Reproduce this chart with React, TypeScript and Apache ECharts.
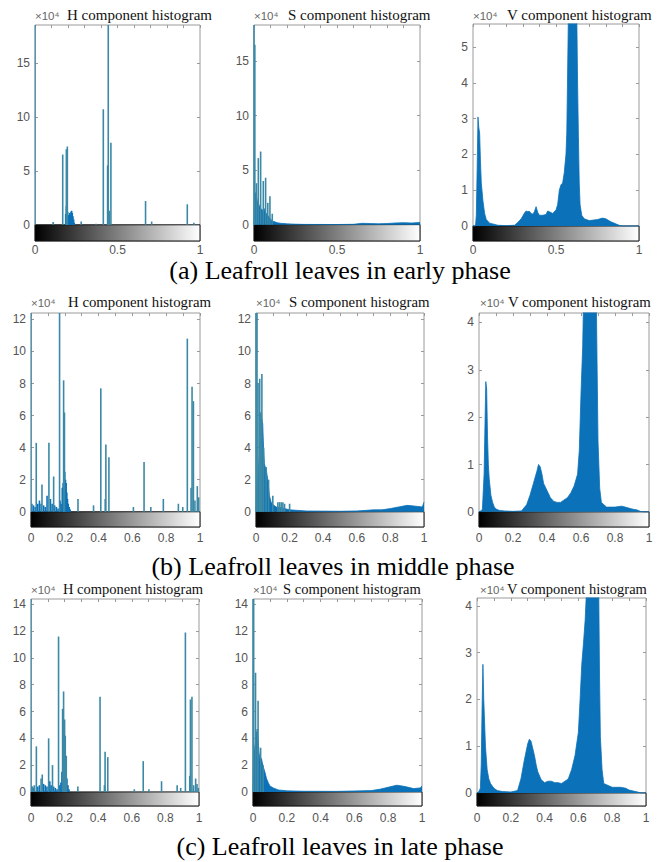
import React, { useEffect, useRef } from "react";
import * as echarts from "echarts";

type P = [number, number];

// ---------- texts ----------
const captions = [
  "(a) Leafroll leaves in early phase",
  "(b) Leafroll leaves in middle phase",
  "(c) Leafroll leaves in late phase",
];
const componentTitles = ["H component histogram", "S component histogram", "V component histogram"];
const scaleText = "×10⁴";

// ---------- tick values ----------
const xTicksCoarse = 0.5;
const xTicksFine = 0.2;
const yTicksA_HS = [0, 5, 10, 15];
const yTicksA_V = [0, 1, 2, 3, 4, 5];
const yTicksB_HS = [0, 2, 4, 6, 8, 10, 12];
const yTicksC_HS = [0, 2, 4, 6, 8, 10, 12, 14];
const yTicksBC_V = [0, 1, 2, 3, 4];

// axis limits (x10^4), lower part holds the gray colour bar
const limitsA_H: P = [-1.5, 18.5];
const limitsA_S: P = [-1.5, 18.3];
const limitsA_V: P = [-0.42, 5.65];
const limitsB_H: P = [-0.95, 12.4];
const limitsB_S: P = [-0.95, 12.4];
const limitsB_V: P = [-0.32, 4.2];
const limitsC_H: P = [-1.05, 14.4];
const limitsC_S: P = [-1.05, 14.4];
const limitsC_V: P = [-0.28, 4.17];

// ---------- (a) early phase ----------
const hEarlySpikes: P[] = [
  [0, 30], [0.11, 0.25], [0.168, 6.5], [0.19, 7.0], [0.196, 7.25], [0.28, 0.3], [0.37, 0.1],
  [0.414, 10.7], [0.44, 5.5], [0.444, 30], [0.45, 1.3], [0.46, 7.6], [0.67, 2.2], [0.707, 0.3],
  [0.923, 1.9], [0.963, 0.2],
];
const hEarlyDense: P[] = [
  [0.186, 1.0], [0.19, 1.7], [0.194, 1.5], [0.198, 1.2], [0.202, 0.9], [0.206, 0.5], [0.21, 1.1],
  [0.214, 0.9], [0.218, 1.2], [0.222, 1.3], [0.226, 1.1], [0.23, 0.8], [0.234, 0.5], [0.238, 0.2],
];
const sEarlyArea: P[] = [
  [0, 0], [0.003, 3.0], [0.01, 2.9], [0.02, 2.2], [0.03, 1.8], [0.04, 1.5], [0.05, 1.3], [0.06, 1.5],
  [0.07, 1.1], [0.08, 0.9], [0.09, 0.7], [0.1, 0.5], [0.11, 0.35], [0.12, 0.28], [0.14, 0.18],
  [0.16, 0.12], [0.2, 0.07], [0.25, 0.04], [0.3, 0.02], [0.5, 0.01], [0.6, 0.03], [0.65, 0.12],
  [0.7, 0.1], [0.75, 0.08], [0.8, 0.1], [0.85, 0.15], [0.9, 0.18], [0.95, 0.15], [1, 0.2],
];
const sEarlySpikes: P[] = [
  [0, 30], [0.005, 16.5], [0.015, 3.8], [0.026, 6.1], [0.04, 6.7], [0.056, 4.0], [0.07, 4.3],
  [0.083, 2.0], [0.096, 2.6], [0.11, 1.0],
];
const vEarly: P[] = [
  [0, 0], [0.015, 0], [0.02, 0.3], [0.025, 1.6], [0.03, 3.05], [0.035, 2.75], [0.04, 2.6],
  [0.045, 1.8], [0.05, 1.2], [0.06, 0.7], [0.07, 0.35], [0.08, 0.18], [0.1, 0.08], [0.15, 0.02],
  [0.2, 0.01], [0.25, 0.02], [0.27, 0.1], [0.29, 0.2], [0.3, 0.28], [0.31, 0.36], [0.32, 0.42],
  [0.33, 0.4], [0.34, 0.41], [0.35, 0.35], [0.36, 0.33], [0.37, 0.4], [0.38, 0.54], [0.39, 0.38],
  [0.4, 0.3], [0.42, 0.3], [0.44, 0.32], [0.45, 0.42], [0.46, 0.4], [0.48, 0.35], [0.5, 0.45],
  [0.51, 0.6], [0.52, 1.0], [0.53, 1.15], [0.54, 1.2], [0.55, 1.5], [0.56, 2.0], [0.565, 2.6],
  [0.575, 6], [0.625, 6], [0.63, 4], [0.635, 2.5], [0.64, 1.2], [0.645, 0.6], [0.655, 0.3],
  [0.67, 0.2], [0.7, 0.15], [0.75, 0.18], [0.78, 0.22], [0.8, 0.2], [0.83, 0.12], [0.86, 0.06],
  [0.88, 0.02], [0.9, 0], [1, 0],
];

// ---------- (b) middle phase ----------
const hMiddleSpikes: P[] = [
  [0, 30], [0.031, 4.3], [0.065, 1.7], [0.106, 4.3], [0.134, 2.2], [0.169, 30], [0.193, 8.2],
  [0.198, 6.2], [0.278, 0.8], [0.37, 0.4], [0.413, 7.7], [0.439, 0.8], [0.443, 4.2], [0.461, 3.4],
  [0.606, 0.3], [0.669, 3.1], [0.709, 0.3], [0.783, 0.8], [0.872, 0.5], [0.898, 0.3], [0.925, 10.8],
  [0.947, 1.5], [0.953, 7.8], [0.961, 6.9], [0.97, 0.7], [0.984, 1.6], [0.992, 0.9],
];
const hMiddleDense: P[] = [
  [0.005, 0.5], [0.015, 0.4], [0.025, 0.3], [0.04, 0.5], [0.05, 0.7], [0.06, 0.5], [0.075, 0.4],
  [0.085, 0.3], [0.095, 1.0], [0.115, 0.8], [0.125, 0.5], [0.14, 0.4], [0.15, 0.3], [0.16, 0.2],
  [0.172, 0.7], [0.178, 0.5], [0.185, 1.5], [0.19, 1.8], [0.196, 2.8], [0.2, 2.5], [0.204, 2.0],
  [0.208, 1.8], [0.212, 1.2], [0.216, 0.8], [0.22, 0.5], [0.226, 0.3], [0.232, 0.15],
];
const sMiddleArea: P[] = [
  [0, 0], [0.004, 1.5], [0.01, 2.0], [0.02, 3.5], [0.03, 6.0], [0.04, 5.5], [0.045, 4.0], [0.05, 3.0],
  [0.055, 2.8], [0.06, 2.7], [0.07, 2.0], [0.08, 1.0], [0.09, 0.6], [0.1, 0.45], [0.12, 0.3],
  [0.15, 0.25], [0.2, 0.12], [0.3, 0.05], [0.5, 0.03], [0.6, 0.05], [0.7, 0.12], [0.75, 0.12],
  [0.8, 0.2], [0.85, 0.3], [0.9, 0.4], [0.95, 0.35], [0.99, 0.3], [1, 0.6],
];
const sMiddleSpikes: P[] = [
  [0, 30], [0.006, 12.8], [0.012, 8.0], [0.022, 8.3], [0.028, 6.2], [0.035, 8.6], [0.045, 4.0],
  [0.06, 2.8], [0.075, 2.0], [0.1, 1.0], [0.13, 0.6], [0.14, 0.6], [0.15, 0.6], [0.16, 0.6],
  [0.17, 0.5], [0.2, 0.5],
];
const vMiddle: P[] = [
  [0, 0], [0.01, 0.02], [0.02, 0.05], [0.03, 0.8], [0.035, 1.8], [0.04, 2.75], [0.045, 2.6],
  [0.05, 1.6], [0.055, 1.0], [0.06, 0.7], [0.07, 0.35], [0.08, 0.2], [0.09, 0.1], [0.1, 0.06],
  [0.12, 0.03], [0.15, 0.02], [0.2, 0.01], [0.25, 0.02], [0.28, 0.15], [0.3, 0.35], [0.32, 0.6],
  [0.34, 0.85], [0.35, 1.0], [0.36, 0.95], [0.37, 0.8], [0.38, 0.6], [0.4, 0.45], [0.42, 0.3],
  [0.44, 0.22], [0.46, 0.2], [0.48, 0.2], [0.5, 0.25], [0.52, 0.3], [0.54, 0.4], [0.56, 0.55],
  [0.58, 0.8], [0.59, 1.3], [0.6, 2.5], [0.61, 3.5], [0.615, 4.5], [0.69, 4.5], [0.695, 3],
  [0.7, 1.5], [0.71, 0.5], [0.72, 0.2], [0.75, 0.1], [0.8, 0.1], [0.84, 0.12], [0.86, 0.1],
  [0.9, 0.06], [0.93, 0.04], [0.95, 0.01], [0.97, 0], [1, 0],
];

// ---------- (c) late phase ----------
const hLateSpikes: P[] = [
  [0, 30], [0.01, 0.4], [0.02, 0.5], [0.032, 3.4], [0.06, 1.0], [0.067, 1.3], [0.105, 4.0],
  [0.128, 2.0], [0.164, 11.6], [0.188, 6.2], [0.194, 7.5], [0.2, 5.4], [0.204, 4.2], [0.21, 2.7],
  [0.279, 0.4], [0.411, 7.1], [0.437, 0.5], [0.441, 3.0], [0.457, 2.6], [0.615, 0.2], [0.668, 2.3],
  [0.702, 0.2], [0.777, 0.8], [0.87, 0.5], [0.891, 0.3], [0.919, 11.9], [0.945, 1.2], [0.949, 6.9],
  [0.958, 7.1], [0.968, 0.5], [0.98, 1.0], [0.988, 0.6], [0.996, 0.3],
];
const hLateDense: P[] = [
  [0.005, 0.4], [0.015, 0.3], [0.04, 0.4], [0.05, 0.5], [0.075, 0.6], [0.085, 0.5], [0.095, 0.4],
  [0.112, 0.8], [0.12, 0.5], [0.135, 0.4], [0.145, 0.3], [0.155, 0.2], [0.17, 0.5], [0.178, 0.7],
  [0.184, 1.5], [0.19, 2.0], [0.196, 2.2], [0.202, 2.0], [0.208, 1.5], [0.214, 1.0], [0.22, 0.5],
  [0.226, 0.2],
];
const sLateArea: P[] = [
  [0, 0], [0.004, 3.5], [0.01, 3.0], [0.02, 4.5], [0.03, 4.0], [0.035, 3.0], [0.04, 2.5], [0.05, 2.5],
  [0.055, 2.2], [0.06, 1.9], [0.07, 1.5], [0.08, 1.0], [0.09, 0.7], [0.1, 0.45], [0.12, 0.3],
  [0.15, 0.15], [0.2, 0.08], [0.3, 0.05], [0.5, 0.04], [0.7, 0.1], [0.75, 0.2], [0.8, 0.35],
  [0.85, 0.5], [0.88, 0.45], [0.9, 0.4], [0.95, 0.25], [0.99, 0.3], [1, 0.45],
];
const sLateSpikes: P[] = [
  [0, 30], [0.004, 14.5], [0.015, 8.9], [0.025, 4.7], [0.03, 6.8], [0.045, 3.3], [0.06, 2.0],
];
const vLate: P[] = [
  [0, 0], [0.01, 0.02], [0.02, 0.1], [0.025, 0.6], [0.03, 1.8], [0.035, 2.75], [0.04, 2.0],
  [0.05, 1.0], [0.06, 0.5], [0.07, 0.3], [0.08, 0.2], [0.1, 0.1], [0.12, 0.05], [0.15, 0.03],
  [0.2, 0.02], [0.24, 0.05], [0.26, 0.3], [0.28, 0.7], [0.3, 1.05], [0.31, 1.15], [0.32, 1.1],
  [0.33, 0.95], [0.34, 0.8], [0.35, 0.6], [0.36, 0.45], [0.38, 0.28], [0.4, 0.22], [0.42, 0.25],
  [0.44, 0.25], [0.46, 0.22], [0.48, 0.22], [0.5, 0.2], [0.52, 0.25], [0.54, 0.3], [0.56, 0.5],
  [0.58, 0.8], [0.6, 1.3], [0.61, 2.0], [0.62, 2.75], [0.63, 3.2], [0.64, 3.7], [0.65, 4.5],
  [0.72, 4.5], [0.725, 2.5], [0.73, 1.2], [0.74, 0.5], [0.75, 0.2], [0.8, 0.12], [0.85, 0.12],
  [0.88, 0.1], [0.9, 0.06], [0.95, 0.02], [0.97, 0], [1, 0],
];

// ---------- styling / layout ----------
const BLUE = "#0b71b8";
const TEAL = "#3b89a6";
const FRAME = "#9a9a9a";
const TICK_TEXT = "#555";
const SANS = "Liberation Sans, Arial, sans-serif";
const SERIF = "Liberation Serif, Times New Roman, serif";

type Panel = {
  kind: "H" | "S" | "V";
  box: [number, number, number, number];
  limits: P;
  yTicks: number[];
  xInterval: number;
  spikes?: P[];
  dense?: P[];
  area?: P[];
  titleX: number;
  scaleX: number;
  titleY: number;
  titleSize: number;
  labelMargin: number;
};

const panels: Panel[] = [
  { kind: "H", box: [35, 25, 165, 216], limits: limitsA_H, yTicks: yTicksA_HS, xInterval: xTicksCoarse, spikes: hEarlySpikes, dense: hEarlyDense, titleX: 67, scaleX: 35, titleY: 15, titleSize: 15, labelMargin: 3 },
  { kind: "S", box: [254, 25, 166, 216], limits: limitsA_S, yTicks: yTicksA_HS, xInterval: xTicksCoarse, spikes: sEarlySpikes, area: sEarlyArea, titleX: 288, scaleX: 254, titleY: 15, titleSize: 15, labelMargin: 3 },
  { kind: "V", box: [473, 24, 166, 217], limits: limitsA_V, yTicks: yTicksA_V, xInterval: xTicksCoarse, area: vEarly, titleX: 507, scaleX: 473, titleY: 15, titleSize: 15, labelMargin: 3 },
  { kind: "H", box: [31, 313, 169, 214], limits: limitsB_H, yTicks: yTicksB_HS, xInterval: xTicksFine, spikes: hMiddleSpikes, dense: hMiddleDense, titleX: 68, scaleX: 31, titleY: 302, titleSize: 14.8, labelMargin: 5 },
  { kind: "S", box: [256, 313, 168, 214], limits: limitsB_S, yTicks: yTicksB_HS, xInterval: xTicksFine, spikes: sMiddleSpikes, area: sMiddleArea, titleX: 289, scaleX: 256, titleY: 302, titleSize: 14.8, labelMargin: 5 },
  { kind: "V", box: [479, 313, 170, 214], limits: limitsB_V, yTicks: yTicksBC_V, xInterval: xTicksFine, area: vMiddle, titleX: 508, scaleX: 480, titleY: 302, titleSize: 14.8, labelMargin: 5 },
  { kind: "H", box: [31, 599, 168, 207], limits: limitsC_H, yTicks: yTicksC_HS, xInterval: xTicksFine, spikes: hLateSpikes, dense: hLateDense, titleX: 63, scaleX: 31, titleY: 589, titleSize: 14.5, labelMargin: 6 },
  { kind: "S", box: [253, 599, 169, 207], limits: limitsC_S, yTicks: yTicksC_HS, xInterval: xTicksFine, spikes: sLateSpikes, area: sLateArea, titleX: 283, scaleX: 253, titleY: 589, titleSize: 14.5, labelMargin: 6 },
  { kind: "V", box: [477, 598, 169, 208], limits: limitsC_V, yTicks: yTicksBC_V, xInterval: xTicksFine, area: vLate, titleX: 507, scaleX: 480, titleY: 589, titleSize: 14.5, labelMargin: 6 },
];

const captionPos: P[] = [[340, 270], [333, 566], [340, 846]];

function buildOption() {
  const grid: any[] = [];
  const xAxis: any[] = [];
  const yAxis: any[] = [];
  const series: any[] = [];
  const graphic: any[] = [];

  panels.forEach((p, i) => {
    const [left, top, width, height] = p.box;
    grid.push({ left, top, width, height, show: true, borderColor: FRAME, borderWidth: 1, backgroundColor: "transparent" });

    xAxis.push({
      type: "value", gridIndex: i, min: 0, max: 1, interval: p.xInterval, position: "bottom",
      axisLine: { show: false, onZero: false }, axisTick: { show: false }, splitLine: { show: false },
      axisLabel: { color: TICK_TEXT, fontSize: 12, fontFamily: SANS, margin: p.labelMargin, showMinLabel: true, showMaxLabel: true },
    });
    xAxis.push({
      type: "value", gridIndex: i, min: 0, max: 1, interval: 0.1, position: "top",
      axisLine: { show: false, onZero: false }, splitLine: { show: false },
      axisTick: { show: true, inside: true, length: 3, lineStyle: { color: FRAME } },
      axisLabel: { show: false },
    });
    yAxis.push({
      type: "value", gridIndex: i, min: p.limits[0], max: p.limits[1], position: "left",
      axisLine: { show: false, onZero: false }, splitLine: { show: false },
      axisTick: { show: true, inside: true, length: 3, customValues: p.yTicks, lineStyle: { color: FRAME } },
      axisLabel: { customValues: p.yTicks, color: TICK_TEXT, fontSize: 12, fontFamily: SANS, margin: 5 },
    });
    yAxis.push({
      type: "value", gridIndex: i, min: p.limits[0], max: p.limits[1], position: "right",
      axisLine: { show: false, onZero: false }, splitLine: { show: false },
      axisTick: { show: true, inside: true, length: 3, customValues: p.yTicks, lineStyle: { color: FRAME } },
      axisLabel: { show: false },
    });

    const colorBar = {
      silent: true,
      label: { show: false },
      itemStyle: {
        color: new echarts.graphic.LinearGradient(0, 0, 1, 0, [
          { offset: 0, color: "#000000" },
          { offset: 1, color: "#ffffff" },
        ]),
        borderColor: "#111",
        borderWidth: 1,
      },
      data: [[{ coord: [0, 0] }, { coord: [1, p.limits[0]] }]],
    };

    const axes = { xAxisIndex: 2 * i, yAxisIndex: 2 * i };
    let first = true;
    const mk = () => {
      if (first) { first = false; return { markArea: colorBar }; }
      return {};
    };

    if (p.area) {
      series.push({
        type: "line", ...axes, data: p.area, showSymbol: false, symbol: "none", clip: true,
        lineStyle: { color: BLUE, width: 0.8 }, areaStyle: { color: BLUE, opacity: 1 },
        z: 2, ...mk(),
      });
    }
    if (p.dense) {
      series.push({
        type: "bar", ...axes, data: p.dense, barWidth: 1.6, barGap: "-100%", clip: true,
        itemStyle: { color: BLUE }, z: 2, ...mk(),
      });
    }
    if (p.spikes) {
      series.push({
        type: "bar", ...axes, data: p.spikes, barWidth: 1.6, barGap: "-100%", clip: true,
        itemStyle: { color: TEAL }, z: 3, ...mk(),
      });
    }

    graphic.push({
      type: "text", x: p.scaleX, y: p.titleY + 1, silent: true,
      style: { text: scaleText, font: `11.5px ${SANS}`, fill: "#666", align: "left", verticalAlign: "middle" },
    });
    graphic.push({
      type: "text", x: p.titleX, y: p.titleY, silent: true,
      style: { text: componentTitles[i % 3], font: `${p.titleSize}px ${SERIF}`, fill: "#111", align: "left", verticalAlign: "middle" },
    });
  });

  captions.forEach((c, k) => {
    graphic.push({
      type: "text", x: captionPos[k][0], y: captionPos[k][1], silent: true,
      style: { text: c, font: `26px ${SERIF}`, fill: "#000", align: "center", verticalAlign: "middle" },
    });
  });

  return { animation: false, backgroundColor: "#ffffff", grid, xAxis, yAxis, series, graphic };
}

export default function App() {
  const ref = useRef<HTMLDivElement>(null);
  useEffect(() => {
    if (!ref.current) return;
    const chart = echarts.init(ref.current, null, { renderer: "svg" });
    chart.setOption(buildOption() as any);
    return () => chart.dispose();
  }, []);
  return (
    <div
      ref={ref}
      style={{ position: "absolute", left: 0, top: 0, width: 667, height: 862, background: "#fff" }}
    />
  );
}
